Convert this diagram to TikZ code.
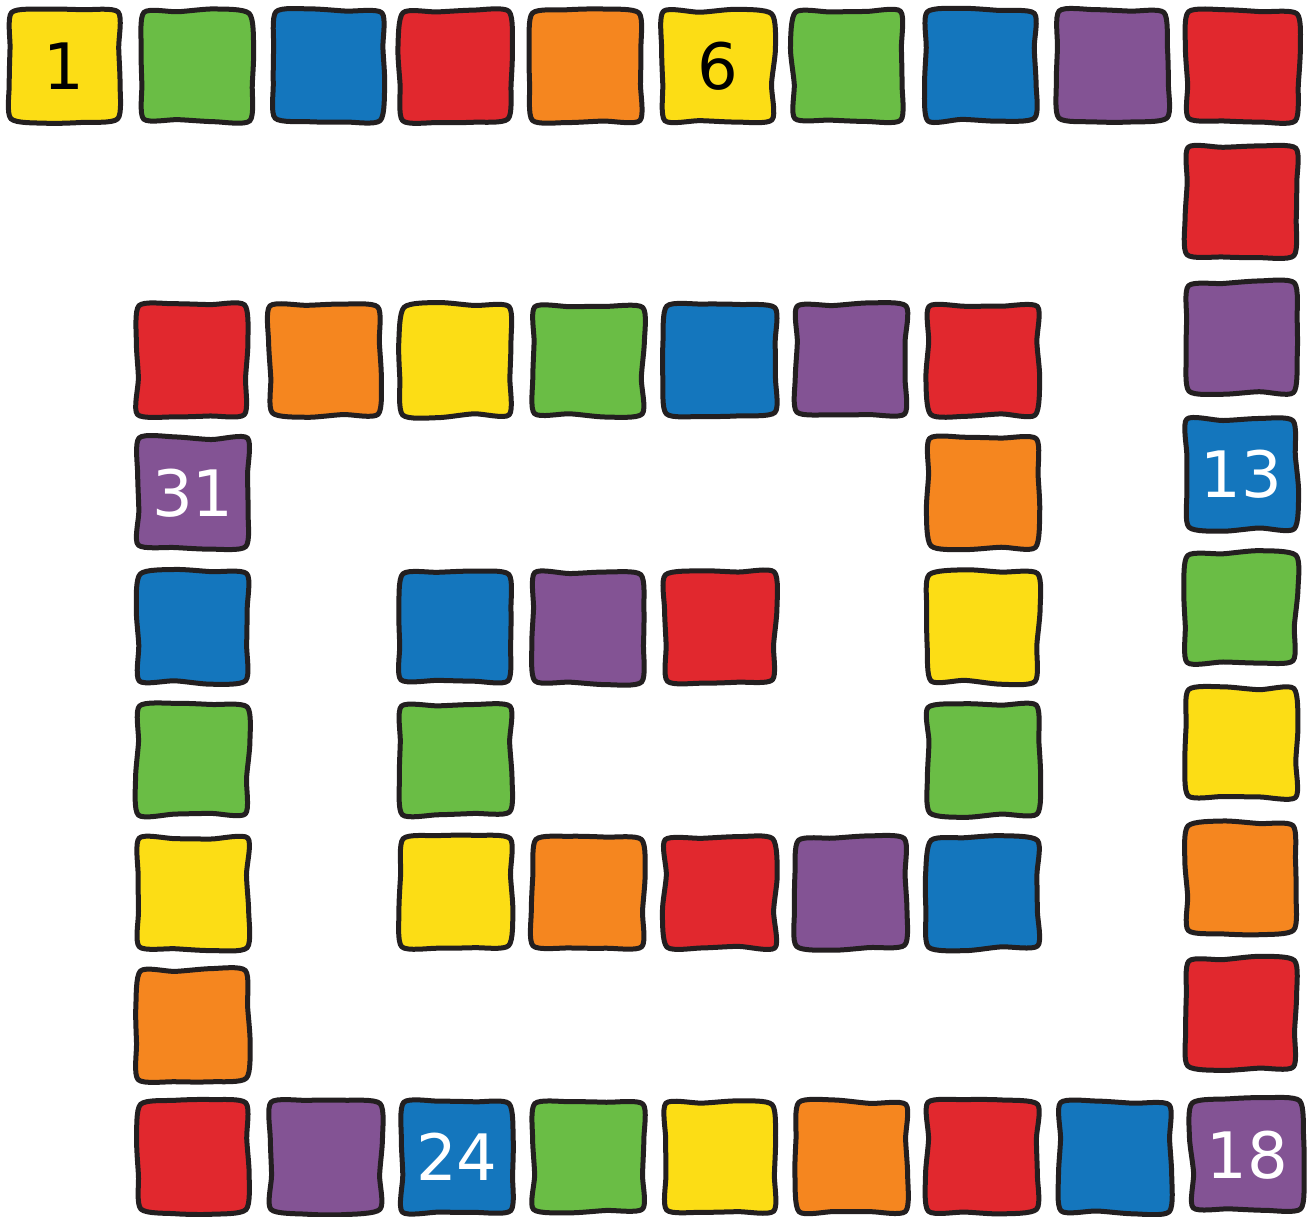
\documentclass[tikz,border=0pt]{standalone}
\usepackage{fontspec}
\setmainfont{DejaVu Sans}
\definecolor{cY}{HTML}{FCDD15}
\definecolor{cG}{HTML}{6ABD45}
\definecolor{cB}{HTML}{1476BD}
\definecolor{cR}{HTML}{E1282E}
\definecolor{cO}{HTML}{F5861F}
\definecolor{cP}{HTML}{835394}
\definecolor{cOut}{HTML}{231F20}
\tikzset{
  tileline/.style={draw=cOut, line width=5pt, line join=round},
  tiletext/.style={minimum size=110pt, inner sep=0pt,
    font=\fontsize{64}{64}\selectfont},
  lt/.style={text=white},
  dk/.style={text=black}
}
\newcommand\mktile[6][]{%
  \pgfmathsetmacro\aA{1.6*rand}\pgfmathsetmacro\aB{1.6*rand}%
  \pgfmathsetmacro\aC{1.6*rand}\pgfmathsetmacro\aD{1.6*rand}%
  \pgfmathsetmacro\aE{1.6*rand}\pgfmathsetmacro\aF{1.6*rand}%
  \pgfmathsetmacro\aG{1.6*rand}\pgfmathsetmacro\aH{1.6*rand}%
  \pgfmathsetmacro\bA{2.2*rand}\pgfmathsetmacro\bB{2.2*rand}%
  \pgfmathsetmacro\bC{2.2*rand}\pgfmathsetmacro\bD{2.2*rand}%
  \pgfmathsetmacro\bE{2.2*rand}\pgfmathsetmacro\bF{2.2*rand}%
  \pgfmathsetmacro\bG{2.2*rand}\pgfmathsetmacro\bH{2.2*rand}%
  \draw[tileline, fill=#5] plot[smooth cycle, tension=0.45] coordinates {
    ({#3-53.5+\aA},{#4-53.5+\aB})
    ({#3-18},{#4-55.5+\bA})
    ({#3+18},{#4-55.5+\bB})
    ({#3+53.5+\aC},{#4-53.5+\aD})
    ({#3+55.5+\bC},{#4-18})
    ({#3+55.5+\bD},{#4+18})
    ({#3+53.5+\aE},{#4+53.5+\aF})
    ({#3+18},{#4+55.5+\bE})
    ({#3-18},{#4+55.5+\bF})
    ({#3-53.5+\aG},{#4+53.5+\aH})
    ({#3-55.5+\bG},{#4+18})
    ({#3-55.5+\bH},{#4-18})
  };
  \node[tiletext,#1] (#2) at (#3,#4) {#6};%
}
\begin{document}
\begin{tikzpicture}[x=1pt,y=-1pt]
\pgfmathsetseed{11}
\useasboundingbox (0,0) rectangle (1313,1216);
% top row
\mktile[dk]{t1}{64}{66}{cY}{1}
\mktile{t2}{196}{66}{cG}{}
\mktile{t3}{328}{66}{cB}{}
\mktile{t4}{455}{66}{cR}{}
\mktile{t5}{585}{66}{cO}{}
\mktile[dk]{t6}{718}{66}{cY}{6}
\mktile{t7}{848}{66}{cG}{}
\mktile{t8}{980}{66}{cB}{}
\mktile{t9}{1112}{66}{cP}{}
\mktile{t10}{1243}{66}{cR}{}
% right column
\mktile{t11}{1241}{201}{cR}{}
\mktile{t12}{1241}{338}{cP}{}
\mktile[lt]{t13}{1241}{474}{cB}{13}
\mktile{t14}{1241}{608}{cG}{}
\mktile{t15}{1241}{743}{cY}{}
\mktile{t16}{1241}{878}{cO}{}
\mktile{t17}{1241}{1013}{cR}{}
\mktile[lt]{t18}{1247}{1155}{cP}{18}
% bottom row
\mktile{t19}{1115}{1157}{cB}{}
\mktile{t20}{983}{1157}{cR}{}
\mktile{t21}{852}{1157}{cO}{}
\mktile{t22}{720}{1157}{cY}{}
\mktile{t23}{588}{1157}{cG}{}
\mktile[lt]{t24}{457}{1157}{cB}{24}
\mktile{t25}{325}{1157}{cP}{}
\mktile{t26}{193}{1157}{cR}{}
% left column
\mktile{t27}{193}{1025}{cO}{}
\mktile{t28}{193}{893}{cY}{}
\mktile{t29}{193}{760}{cG}{}
\mktile{t30}{193}{627}{cB}{}
\mktile[lt]{t31}{193}{493}{cP}{31}
% inner top row
\mktile{t32}{192}{360}{cR}{}
\mktile{t33}{325}{360}{cO}{}
\mktile{t34}{456}{360}{cY}{}
\mktile{t35}{588}{360}{cG}{}
\mktile{t36}{720}{360}{cB}{}
\mktile{t37}{851}{360}{cP}{}
\mktile{t38}{983}{360}{cR}{}
% inner right column
\mktile{t39}{983}{493}{cO}{}
\mktile{t40}{983}{627}{cY}{}
\mktile{t41}{983}{760}{cG}{}
\mktile{t42}{983}{893}{cB}{}
% inner bottom row
\mktile{t43}{851}{893}{cP}{}
\mktile{t44}{720}{893}{cR}{}
\mktile{t45}{588}{893}{cO}{}
\mktile{t46}{456}{893}{cY}{}
% centre
\mktile{t47}{456}{760}{cG}{}
\mktile{t48}{456}{627}{cB}{}
\mktile{t49}{588}{627}{cP}{}
\mktile{t50}{720}{627}{cR}{}
\end{tikzpicture}
\end{document}
